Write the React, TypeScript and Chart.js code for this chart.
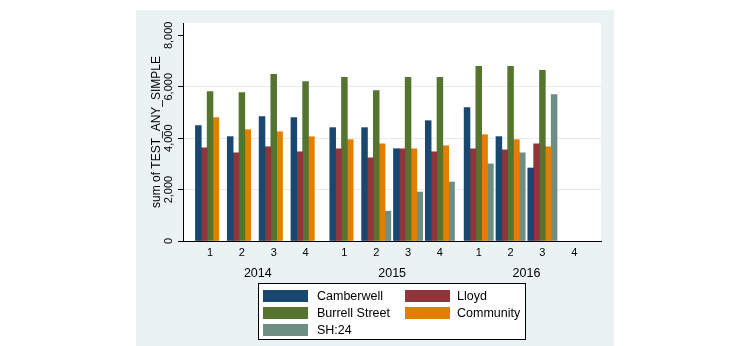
import React, { useEffect, useRef } from 'react';
import { Chart, registerables } from 'chart.js';

Chart.register(...registerables);

// ---- Data ----
const years = ['2014', '2015', '2016'];
const quarters = ['1', '2', '3', '4'];
const seriesNames = ['Camberwell', 'Lloyd', 'Burrell Street', 'Community', 'SH:24'];
const camberwell = [4490, 4060, 4840, 4800, 4410, 4410, 3590, 4680, 5190, 4060, 2840, null];
const lloyd = [3625, 3430, 3665, 3470, 3585, 3235, 3585, 3470, 3585, 3545, 3780, null];
const burrellStreet = [5815, 5775, 6480, 6205, 6365, 5855, 6365, 6365, 6795, 6795, 6635, null];
const community = [4800, 4330, 4250, 4055, 3940, 3780, 3585, 3705, 4135, 3940, 3665, null];
const sh24 = [null, null, null, null, null, 1160, 1905, 2295, 3000, 3430, 5700, null];
const yTicks = [0, 2000, 4000, 6000, 8000];
const yAxisTitle = 'sum of TEST_ANY_SIMPLE';

// ---- Styles ----
const FONT = "'Liberation Sans', Arial, Helvetica, sans-serif";
const colors = ['#1a476f', '#90353b', '#55752f', '#e37e00', '#6e8e84'];
const REGION = '#eaf2f3';
const GRID = '#e4ecec';
const YEAR_STEP = 4.22; // quarters per year + gap between year groups

const seriesValues = [camberwell, lloyd, burrellStreet, community, sh24];

const xOf = (i: number) => Math.floor(i / quarters.length) * YEAR_STEP + (i % quarters.length);
const nPoints = years.length * quarters.length;

const tickDefs: { value: number; label: string | string[]; year: boolean }[] = [];
for (let i = 0; i < nPoints; i++) {
  tickDefs.push({ value: xOf(i), label: quarters[i % quarters.length], year: false });
}
years.forEach((yr, y) => {
  tickDefs.push({ value: y * YEAR_STEP + (quarters.length - 1) / 2, label: ['', yr], year: true });
});

const bgPlugin = {
  id: 'stataBackground',
  beforeDraw(chart: any) {
    const { ctx, chartArea } = chart;
    ctx.save();
    ctx.fillStyle = '#ffffff';
    ctx.fillRect(0, 0, chart.width, chart.height);
    ctx.fillStyle = REGION;
    ctx.fillRect(136, 10, 478, chart.height - 10);
    ctx.fillStyle = '#ffffff';
    ctx.fillRect(chartArea.left, chartArea.top, chartArea.right - chartArea.left, chartArea.bottom - chartArea.top);
    ctx.restore();
  },
};

const legendPlugin = {
  id: 'stataLegend',
  afterDraw(chart: any) {
    const ctx = chart.ctx;
    ctx.save();
    ctx.fillStyle = '#ffffff';
    ctx.fillRect(258, 283, 268, 57);
    ctx.strokeStyle = '#000000';
    ctx.lineWidth = 1;
    ctx.strokeRect(258.5, 283.5, 267, 56);
    const swX = [263, 405];
    const txX = [317, 457];
    ctx.font = `12.5px ${FONT}`;
    ctx.textBaseline = 'middle';
    ctx.textAlign = 'left';
    chart.data.datasets.forEach((ds: any, i: number) => {
      const col = i % 2;
      const row = Math.floor(i / 2);
      const sy = 290 + row * 17;
      ctx.fillStyle = ds.backgroundColor;
      ctx.fillRect(swX[col], sy, 45, 12);
      ctx.fillStyle = '#000000';
      ctx.fillText(ds.label, txX[col], sy + 6.5);
    });
    ctx.restore();
  },
};

export default function App() {
  const ref = useRef<HTMLCanvasElement>(null);

  useEffect(() => {
    if (!ref.current) return;
    const datasets = seriesNames.map((name, s) => ({
      label: name,
      data: seriesValues[s].map((v, i) => ({ x: xOf(i), y: v })),
      backgroundColor: colors[s],
      borderWidth: 0,
      barThickness: 5.85,
    }));

    const chart = new Chart(ref.current, {
      type: 'bar',
      data: { datasets } as any,
      options: {
        animation: false,
        responsive: false,
        maintainAspectRatio: false,
        devicePixelRatio: 1,
        layout: { padding: { left: 145, right: 149, top: 23, bottom: 0 } },
        plugins: {
          legend: { display: false },
          tooltip: { enabled: false },
        },
        scales: {
          x: {
            type: 'linear',
            position: 'bottom',
            min: -0.85,
            max: (years.length - 1) * YEAR_STEP + quarters.length - 1 + 0.84,
            offset: false,
            afterBuildTicks: (scale: any) => {
              scale.ticks = tickDefs.map((t) => ({ value: t.value }));
            },
            afterFit: (scale: any) => {
              scale.height = 105;
            },
            ticks: {
              autoSkip: false,
              minRotation: 0,
              maxRotation: 0,
              padding: 5.5,
              color: '#000000',
              callback: (_v: any, i: number) => tickDefs[i] ? tickDefs[i].label : '',
              font: (ctx: any) =>
                tickDefs[ctx.index] && tickDefs[ctx.index].year
                  ? { family: FONT, size: 12.5, lineHeight: 1.42 }
                  : { family: FONT, size: 11, lineHeight: 1.2 },
            },
            grid: { display: false, drawTicks: false, offset: false },
            border: { display: true, color: '#000000', width: 1 },
          },
          y: {
            type: 'linear',
            position: 'left',
            min: 0,
            max: 8480,
            afterBuildTicks: (scale: any) => {
              scale.ticks = yTicks.map((v) => ({ value: v }));
            },
            afterFit: (scale: any) => {
              scale.width = 38;
            },
            ticks: {
              minRotation: 90,
              maxRotation: 90,
              crossAlign: 'center',
              padding: -5,
              color: '#000000',
              font: { family: FONT, size: 11 },
              callback: (v: any) => Number(v).toLocaleString('en-US'),
            },
            grid: {
              color: (ctx: any) =>
                ctx.tick && (ctx.tick.value === yTicks[0] || ctx.tick.value === yTicks[yTicks.length - 1])
                  ? 'rgba(0,0,0,0)'
                  : GRID,
              lineWidth: 1,
              drawTicks: true,
              tickLength: 5,
              tickColor: '#000000',
              tickWidth: 1,
            },
            border: { display: true, color: '#000000', width: 1 },
            title: {
              display: true,
              text: yAxisTitle,
              color: '#000000',
              font: { family: FONT, size: 12 },
              padding: { top: 4, bottom: 4 },
            },
          },
        },
      } as any,
      plugins: [bgPlugin, legendPlugin],
    });
    return () => chart.destroy();
  }, []);

  return (
    <div style={{ position: 'fixed', left: 0, top: 0, width: 750, height: 346 }}>
      <canvas ref={ref} width={750} height={346} style={{ display: 'block', width: 750, height: 346 }} />
    </div>
  );
}
